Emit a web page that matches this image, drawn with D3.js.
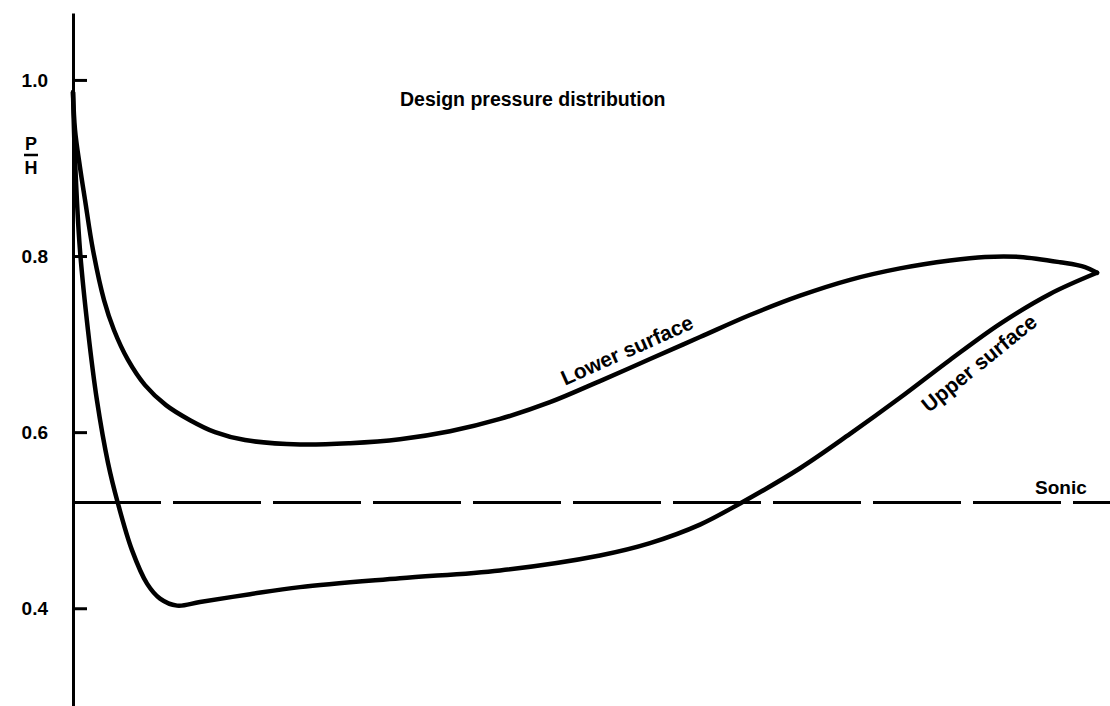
<!DOCTYPE html>
<html>
<head>
<meta charset="utf-8">
<script src="https://cdn.jsdelivr.net/npm/d3@7"></script>
<style>
  html, body { margin: 0; padding: 0; background: #fff; }
  svg { display: block; }
  text { font-family: "Liberation Sans", Arial, sans-serif; font-weight: bold; fill: #000; }
</style>
</head>
<body>
<div id="chart"></div>
<script>
// chord position (x/c) and P/H of each point
const lowerX = [0, 0.002, 0.0068, 0.0117, 0.0195, 0.0303, 0.04, 0.0537, 0.0703, 0.0908, 0.1143, 0.1387,
    0.168, 0.2217, 0.2705, 0.3193, 0.3682, 0.417, 0.4658, 0.5146, 0.5635, 0.6123, 0.6611,
    0.71, 0.7588, 0.8076, 0.8564, 0.8906, 0.9248, 0.9639, 0.9883, 1.0];
const lowerP = [0.986, 0.943, 0.901, 0.864, 0.807, 0.75, 0.716, 0.682, 0.6534, 0.6307, 0.6136, 0.6,
    0.591, 0.586, 0.5875, 0.592, 0.601, 0.615, 0.634, 0.658, 0.683, 0.708, 0.733,
    0.755, 0.773, 0.786, 0.795, 0.799, 0.799, 0.793, 0.7875, 0.781];
const upperX = [0, 0.002, 0.0068, 0.0146, 0.0234, 0.0342, 0.0439, 0.0576, 0.0723, 0.085, 0.1016,
    0.124, 0.1729, 0.2217, 0.3193, 0.417, 0.5146, 0.5635, 0.6123, 0.6514, 0.71, 0.7588, 0.8076,
    0.8564, 0.9053, 0.9541, 1.0];
const upperP = [0.986, 0.909, 0.807, 0.716, 0.636, 0.565, 0.519, 0.466, 0.428, 0.411, 0.403,
    0.407, 0.416, 0.424, 0.434, 0.443, 0.46, 0.474, 0.495, 0.519, 0.559, 0.598, 0.639,
    0.682, 0.723, 0.757, 0.781];
const sonicP = 0.52;
const yTicks = [0.4, 0.6, 0.8, 1.0];
const yExtent = [0.289, 1.076];
const title = 'Design pressure distribution';

const width = 1110, height = 706;

const svg = d3.select('#chart').append('svg')
    .attr('width', width)
    .attr('height', height);

const x = d3.scaleLinear().domain([0, 1]).range([73, 1097]);
const y = d3.scaleLinear().domain(yExtent).range([706, 13]);

const lower = lowerX.map((v, i) => [v, lowerP[i]]);
const upper = upperX.map((v, i) => [v, upperP[i]]);

// axis: ticks point into the plot, labels on the left
const axis = svg.append('g')
    .attr('transform', `translate(${x(0)},0)`)
    .call(d3.axisLeft(y)
        .tickValues(yTicks)
        .tickFormat(d3.format('.1f'))
        .tickSizeInner(-14)
        .tickSizeOuter(0)
        .tickPadding(25));
axis.select('.domain').attr('stroke', '#000').attr('stroke-width', 3);
axis.selectAll('.tick line').attr('stroke', '#000').attr('stroke-width', 3);
axis.selectAll('.tick text')
    .attr('font-size', 19)
    .attr('font-family', '"Liberation Sans", Arial, sans-serif')
    .attr('font-weight', 'bold')
    .attr('fill', '#000');

// P/H label
const ph = svg.append('g').attr('transform', 'translate(31,0)');
ph.append('text').attr('x', 0).attr('y', 150).attr('text-anchor', 'middle').attr('font-size', 18).text('P');
ph.append('line').attr('x1', -7).attr('x2', 7).attr('y1', 155).attr('y2', 155)
    .attr('stroke', '#000').attr('stroke-width', 2.5);
ph.append('text').attr('x', 0).attr('y', 174).attr('text-anchor', 'middle').attr('font-size', 18).text('H');

// sonic line
svg.append('line')
    .attr('x1', x(0)).attr('x2', width)
    .attr('y1', y(sonicP)).attr('y2', y(sonicP))
    .attr('stroke', '#000')
    .attr('stroke-width', 3)
    .attr('stroke-dasharray', '88,12');

const line = d3.line()
    .x(d => x(d[0]))
    .y(d => y(d[1]))
    .curve(d3.curveCatmullRom.alpha(0.5));

svg.append('g')
    .attr('fill', 'none')
    .attr('stroke', '#000')
    .attr('stroke-width', 4.5)
    .attr('stroke-linejoin', 'round')
    .attr('stroke-linecap', 'round')
    .selectAll('path')
    .data([lower, upper])
    .join('path')
    .attr('d', line);

// labels
svg.append('text')
    .attr('x', 400).attr('y', 106)
    .attr('font-size', 19.5)
    .text(title);

svg.append('text')
    .attr('transform', 'translate(627,350) rotate(-24)')
    .attr('text-anchor', 'middle')
    .attr('dy', '0.35em')
    .attr('font-size', 21)
    .text('Lower surface');

svg.append('text')
    .attr('transform', 'translate(979,363) rotate(-39)')
    .attr('text-anchor', 'middle')
    .attr('dy', '0.35em')
    .attr('font-size', 21)
    .text('Upper surface');

svg.append('text')
    .attr('x', 1035).attr('y', 494)
    .attr('font-size', 19)
    .text('Sonic');
</script>
</body>
</html>
